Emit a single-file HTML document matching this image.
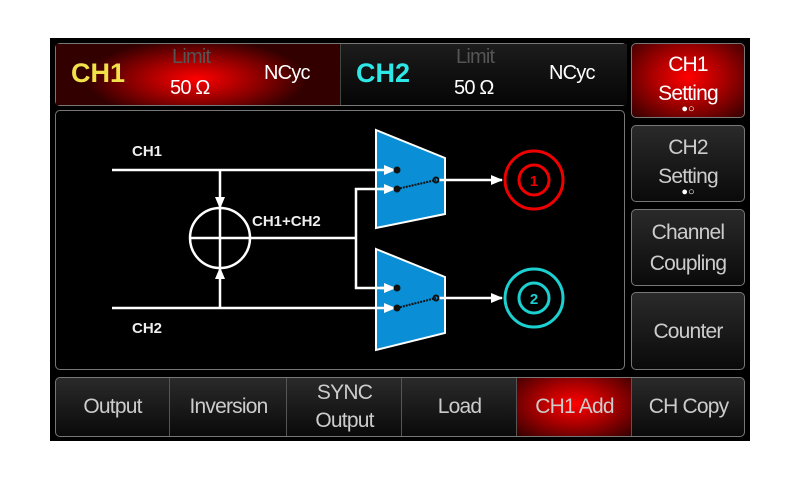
<!DOCTYPE html>
<html><head><meta charset="utf-8"><style>
body{margin:0;width:800px;height:480px;background:#fff;position:relative;overflow:hidden;font-family:"Liberation Sans",Arial,sans-serif}
.p{position:absolute;left:50px;top:38px;width:700px;height:403px;background:#000}
.b{position:absolute;box-sizing:border-box;border:1.5px solid #777;border-radius:5px;background:linear-gradient(#2a2a2a,#0a0a0a);color:#ccc;text-align:center;font-size:21px;line-height:31px;display:flex;align-items:center;justify-content:center;flex-direction:column;letter-spacing:-0.8px}
.red{background:radial-gradient(ellipse at 50% 45%,#f00 0%,#a00 45%,#300 100%)!important;color:#fff}
.cell{position:absolute;top:0;height:100%;border-left:1px solid #555;display:flex;align-items:center;justify-content:center;flex-direction:column;font-size:21px;line-height:28px;color:#ccc;letter-spacing:-0.8px}
.d{font-size:11px;line-height:6px;letter-spacing:0;margin-top:-2px}
</style></head><body>
<div class="p"></div>
<div class="b" style="left:55px;top:43px;width:572px;height:63px;display:block;background:#111">
 <div style="position:absolute;left:0;top:0;width:284px;height:100%;background:radial-gradient(ellipse 110px 40px at 140px 35px,#f00,#800 60%,#300)"></div>
 <div style="position:absolute;left:284px;top:0;width:286px;height:100%;background:linear-gradient(#1c1c1c,#050505);border-left:1px solid #444"></div>
 <div style="position:absolute;left:15px;top:14px;color:#f2e24a;font-weight:bold;font-size:27px;line-height:30px;letter-spacing:0">CH1</div>
 <div style="position:absolute;left:116px;top:0;color:#555;font-size:20px;line-height:26px">Limit</div>
 <div style="position:absolute;left:114px;top:31px;color:#fff;font-size:20px;line-height:26px">50 Ω</div>
 <div style="position:absolute;left:208px;top:16px;color:#fff;font-size:20px;line-height:26px">NCyc</div>
 <div style="position:absolute;left:300px;top:14px;color:#2ee8e8;font-weight:bold;font-size:27px;line-height:30px;letter-spacing:0">CH2</div>
 <div style="position:absolute;left:400px;top:0;color:#555;font-size:20px;line-height:26px">Limit</div>
 <div style="position:absolute;left:398px;top:31px;color:#fff;font-size:20px;line-height:26px">50 Ω</div>
 <div style="position:absolute;left:493px;top:16px;color:#fff;font-size:20px;line-height:26px">NCyc</div>
</div>
<div class="b" style="left:55px;top:110px;width:570px;height:260px;background:#000"></div>
<div class="b red" style="left:631px;top:43px;width:114px;height:75px;line-height:29px">CH1<br>Setting<span class="d">●○</span></div>
<div class="b" style="left:631px;top:125px;width:114px;height:77px;line-height:29px">CH2<br>Setting<span class="d" style="color:#fff">●○</span></div>
<div class="b" style="left:631px;top:209px;width:114px;height:77px;line-height:31px">Channel<br>Coupling</div>
<div class="b" style="left:631px;top:292px;width:114px;height:78px">Counter</div>
<div class="b" style="left:55px;top:377px;width:690px;height:60px;display:block">
 <div class="cell" style="left:0;width:113px;border:none">Output</div>
 <div class="cell" style="left:113px;width:117px">Inversion</div>
 <div class="cell" style="left:230px;width:115px">SYNC<br>Output</div>
 <div class="cell" style="left:345px;width:115px">Load</div>
 <div class="cell red" style="left:460px;width:115px;background:radial-gradient(ellipse at 50% 50%,#f00,#900 50%,#200)">CH1 Add</div>
 <div class="cell" style="left:575px;width:113px">CH Copy</div>
</div>
<svg style="position:absolute;left:0;top:0" width="800" height="480">
<defs><marker id="a" markerWidth="12" markerHeight="10" refX="11" refY="5" orient="auto" markerUnits="userSpaceOnUse"><path d="M0,0L12,5L0,10z" fill="#fff"/></marker>
<marker id="s" markerWidth="12" markerHeight="10" refX="11" refY="5" orient="auto" markerUnits="userSpaceOnUse"><path d="M0,0L12,5L0,10z" fill="#fff"/></marker></defs>
<g stroke="#fff" stroke-width="2.5" fill="none">
<polygon points="376,130 445,158 445,214 376,228" fill="#0a8fd6" stroke-width="2"/>
<polygon points="376,249 445,277 445,333 376,350" fill="#0a8fd6" stroke-width="2"/>
<line x1="112" y1="170" x2="395" y2="170" marker-end="url(#a)"/>
<line x1="112" y1="308" x2="395" y2="308" marker-end="url(#a)"/>
<line x1="220" y1="170" x2="220" y2="208" marker-end="url(#s)"/>
<line x1="220" y1="308" x2="220" y2="268" marker-end="url(#s)"/>
<circle cx="220" cy="238" r="30"/>
<line x1="190" y1="238" x2="356" y2="238"/>
<line x1="220" y1="208" x2="220" y2="268"/>
<polyline points="395,189 356,189 356,288 395,288"/>
<line x1="380" y1="189" x2="395" y2="189" marker-end="url(#a)"/>
<line x1="380" y1="288" x2="395" y2="288" marker-end="url(#a)"/>
<line x1="436" y1="180" x2="502" y2="180" marker-end="url(#s)"/>
<line x1="436" y1="298" x2="502" y2="298" marker-end="url(#s)"/>
</g>
<g stroke="#111" stroke-width="2" fill="#111">
<circle cx="397" cy="170" r="2.5"/><circle cx="397" cy="189" r="2.5"/><circle cx="436" cy="180" r="2.5" fill="#0a8fd6"/>
<line x1="397" y1="189" x2="436" y2="180" stroke-dasharray="2,1"/>
<circle cx="397" cy="288" r="2.5"/><circle cx="397" cy="308" r="2.5"/><circle cx="436" cy="298" r="2.5" fill="#0a8fd6"/>
<line x1="397" y1="308" x2="436" y2="298" stroke-dasharray="2,1"/>
</g>
<g fill="none" stroke-width="3">
<circle cx="534" cy="180" r="29" stroke="#e00"/><circle cx="534" cy="180" r="15" stroke="#e00"/>
<circle cx="534" cy="298" r="29" stroke="#1ccfd0"/><circle cx="534" cy="298" r="15" stroke="#1ccfd0"/>
</g>
<g font-family="Liberation Sans,Arial,sans-serif" font-weight="bold">
<text x="534" y="186" fill="#e00" font-size="15" text-anchor="middle">1</text>
<text x="534" y="304" fill="#1ccfd0" font-size="15" text-anchor="middle">2</text>
<text x="132" y="156" fill="#eee" font-size="15">CH1</text>
<text x="132" y="333" fill="#eee" font-size="15">CH2</text>
<text x="252" y="226" fill="#eee" font-size="15">CH1+CH2</text>
</g>
</svg>
</body></html>
